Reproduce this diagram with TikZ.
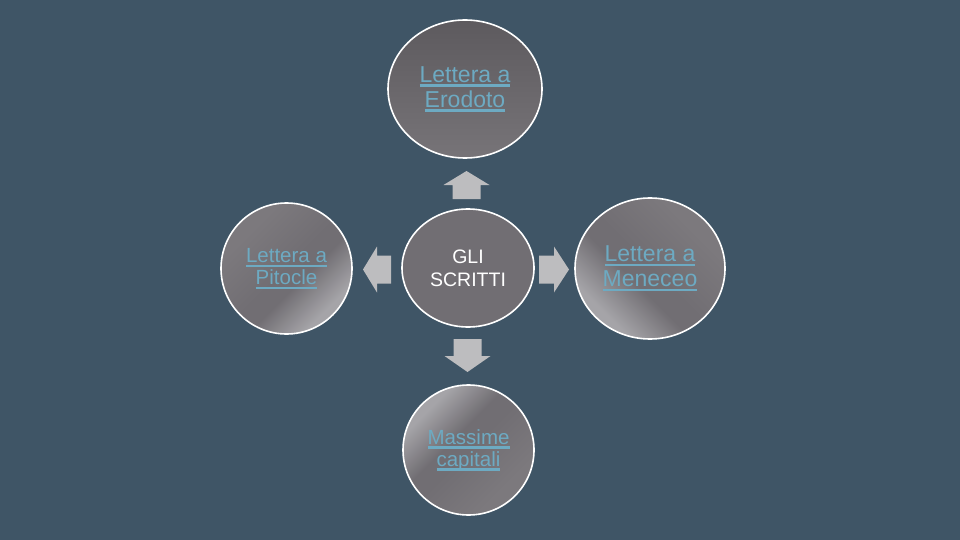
\documentclass[tikz,border=0pt]{standalone}
\usepackage{fontspec}
\setmainfont{Liberation Sans}
\usetikzlibrary{shapes.geometric}
\definecolor{bgc}{HTML}{3F5566}
\definecolor{arrc}{HTML}{BDBDBF}
\definecolor{linkc}{HTML}{6DAAC2}
\definecolor{circc}{HTML}{716E73}
\definecolor{topA}{HTML}{5D5A5E}
\definecolor{topB}{HTML}{777478}
\definecolor{mA}{HTML}{7C797D}
\definecolor{mB}{HTML}{716E73}
\definecolor{mC}{HTML}{A5A4A8}
\definecolor{mD}{HTML}{9E9DA1}
\pgfdeclarehorizontalshading{metal}{100bp}{color(0bp)=(mA); color(30bp)=(mA); color(50bp)=(mB); color(57bp)=(mB); color(72bp)=(mC); color(85bp)=(mC); color(100bp)=(mD)}
\newcommand{\lnk}[1]{\setbox0=\hbox{#1}\dimen0=\wd0\rlap{\vrule height -2.2pt depth 4.4pt width \dimen0}\box0}
\tikzset{
  bubble/.style={ellipse, draw=white, line width=1.6pt, inner sep=0pt, align=center},
  linktext/.style={text=linkc},
  bigtext/.style={font=\fontsize{23}{25}\selectfont},
  smalltext/.style={font=\fontsize{20.5}{22}\selectfont},
  blockarr/.style={fill=arrc},
}
\begin{document}
\begin{tikzpicture}[x=1pt,y=-1pt]
\fill[bgc] (0,0) rectangle (960,540);
\useasboundingbox (0,0) rectangle (960,540);

% center
\node[bubble, fill=circc, text=white, minimum width=132pt, minimum height=118pt,
      font=\fontsize{19.5}{23}\selectfont] (c) at (468,268) {GLI\\SCRITTI};
% top
\node[bubble, linktext, bigtext, top color=topA, bottom color=topB,
      minimum width=154pt, minimum height=138pt] (t) at (465,89) {\lnk{Lettera a}\\\lnk{Erodoto}};
% left
\node[bubble, linktext, smalltext, shading=metal, shading angle=-45,
      minimum width=131pt, minimum height=131pt] (l) at (286.5,268.5) {\lnk{Lettera a}\\\lnk{Pitocle}};
% right
\node[bubble, linktext, bigtext, shading=metal, shading angle=-135,
      minimum width=150pt, minimum height=141pt] (r) at (650,268.5) {\lnk{Lettera a}\\\lnk{Meneceo}};
% bottom
\node[bubble, linktext, smalltext, shading=metal, shading angle=135,
      minimum width=131pt, minimum height=130pt] (b) at (468.5,450) {\lnk{Massime}\\\lnk{capitali}};

% arrows
\coordinate (au) at (466.5,185);
\coordinate (ad) at (467.5,356);
\coordinate (al) at (377,269.5);
\coordinate (ar) at (554,269.5);
\fill[blockarr] (au) ++(-23,0) -- ++(23,-14) -- ++(23,14) -- ++(-9,0) -- ++(0,14) -- ++(-28,0) -- ++(0,-14) -- cycle;
\fill[blockarr] (ad) ++(-23,0) -- ++(23,16) -- ++(23,-16) -- ++(-9,0) -- ++(0,-17) -- ++(-28,0) -- ++(0,17) -- cycle;
\fill[blockarr] (al) ++(0,-23) -- ++(-14,23) -- ++(14,23) -- ++(0,-9) -- ++(14,0) -- ++(0,-28) -- ++(-14,0) -- cycle;
\fill[blockarr] (ar) ++(0,-23) -- ++(15,23) -- ++(-15,23) -- ++(0,-9) -- ++(-15,0) -- ++(0,-28) -- ++(15,0) -- cycle;
\end{tikzpicture}
\end{document}
